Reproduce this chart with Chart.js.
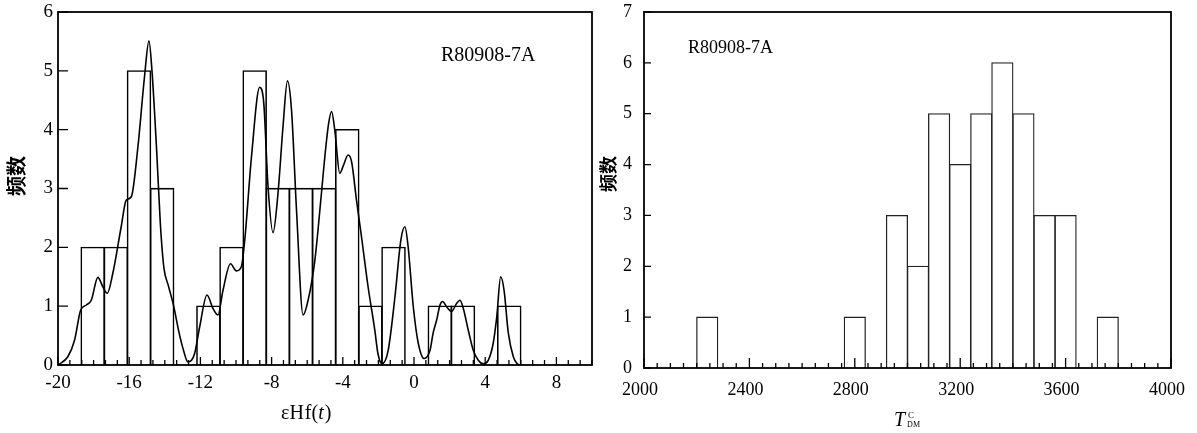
<!DOCTYPE html>
<html>
<head>
<meta charset="utf-8">
<script src="https://cdn.jsdelivr.net/npm/chart.js@4.4.1/dist/chart.umd.min.js"></script>
<style>
  html, body { margin: 0; padding: 0; background: #fff; }
  #wrap { position: relative; width: 1197px; height: 433px; }
  canvas { position: absolute; top: 0; }
  #hf-chart { left: 0; }
  #tdm-chart { left: 598px; }
</style>
</head>
<body>
<div id="wrap">
  <canvas id="hf-chart" width="598" height="433"></canvas>
  <canvas id="tdm-chart" width="599" height="433"></canvas>
</div>
<script>
// Hf isotope histograms - sample R80908-7A
const SAMPLE = 'R80908-7A';

// left panel: εHf(t) histogram (bin centres, width 1.3) and density curve
const hfBinCenters = [-18.05, -16.75, -15.45, -14.15, -12.85, -11.55, -10.25, -8.95, -7.65, -6.35,
                      -5.05, -3.75, -2.45, -1.15, 0.15, 1.45, 2.75, 4.05, 5.35];
const hfCounts = [2, 2, 5, 3, 0, 1, 2, 5, 3, 3, 3, 4, 1, 2, 0, 1, 1, 0, 1];

const hfCurveX = [-20.0, -19.45, -19.07, -18.73, -18.41, -18.13, -17.76, -17.48, -17.23, -16.92,
                  -16.45, -16.17, -15.88, -15.51, -15.14, -14.89, -14.72, -14.45, -14.25, -14.05,
                  -13.8, -13.5, -13.2, -12.95, -12.7, -12.5, -12.32, -12.04, -11.63, -11.29,
                  -11.01, -10.73, -10.31, -9.98, -9.7, -9.51, -9.13, -8.67, -8.44, -8.2,
                  -7.92, -7.64, -7.36, -7.11, -6.88, -6.6, -6.23, -5.95, -5.57, -5.2,
                  -5.01, -4.8, -4.63, -4.45, -4.17, -3.98, -3.7, -3.51, -3.23, -2.95,
                  -2.58, -2.2, -2.03, -1.8, -1.45, -1.07, -0.74, -0.51, -0.33, -0.04,
                  0.24, 0.57, 0.9, 1.08, 1.27, 1.46, 1.61, 1.83, 2.11, 2.4,
                  2.58, 2.77, 3.05, 3.33, 3.61, 3.89, 4.17, 4.45, 4.65, 4.87,
                  5.06, 5.3, 5.58, 5.8, 6.0];
const hfCurveY = [0.0, 0.14, 0.42, 0.93, 1.02, 1.10, 1.49, 1.33, 1.22, 1.56,
                  2.35, 2.80, 2.86, 3.71, 4.90, 5.51, 5.0, 3.6, 2.4, 1.65,
                  1.35, 1.0, 0.55, 0.25, 0.05, 0.08, 0.2, 0.65, 1.19, 0.96,
                  0.85, 1.27, 1.72, 1.60, 1.67, 2.12, 3.54, 4.72, 4.45, 3.03,
                  2.25, 2.92, 4.05, 4.83, 4.33, 2.63, 0.85, 1.1, 1.78, 2.92,
                  3.54, 4.1, 4.31, 3.99, 3.26, 3.38, 3.57, 3.46, 2.80, 2.18,
                  1.33, 0.59, 0.2, 0.02, 0.25, 1.16, 2.12, 2.35, 2.01, 0.99,
                  0.37, 0.11, 0.25, 0.55, 0.76, 1.02, 1.08, 0.99, 0.91, 1.05,
                  1.10, 0.96, 0.59, 0.25, 0.08, 0.02, 0.08, 0.37, 0.82, 1.50,
                  1.27, 0.54, 0.14, 0.02, 0.0];

const hfTicks = [-20, -16, -12, -8, -4, 0, 4, 8];
const hfYTicks = [0, 1, 2, 3, 4, 5, 6];

// right panel: T_DM^C histogram (bin centres, width 80 Ma)
const tdmBinCenters = [2240, 2320, 2400, 2480, 2560, 2640, 2720, 2800, 2880, 2960,
                       3040, 3120, 3200, 3280, 3360, 3440, 3520, 3600, 3680, 3760];
const tdmCounts = [1, 0, 0, 0, 0, 0, 0, 1, 0, 3, 2, 5, 4, 5, 6, 5, 3, 3, 0, 1];

const tdmTicks = [2000, 2400, 2800, 3200, 3600, 4000];
const tdmYTicks = [0, 1, 2, 3, 4, 5, 6, 7];

const FONT = 'Liberation Serif';
Chart.defaults.font.family = FONT;
Chart.defaults.color = '#000';
Chart.defaults.animation = false;

// draws the box, the inward tick marks and the annotation texts
function framePlugin(o) {
    return {
        id: 'frame',
        afterDatasetsDraw(chart) {
            const { ctx, chartArea: a, scales: { x, y } } = chart;
            ctx.save();
            ctx.strokeStyle = '#000';
            ctx.lineWidth = 1.3;
            ctx.beginPath();
            const n = Math.round((x.max - x.min) / o.minorStep);
            for (let i = 0; i <= n; i++) {
                const v = x.min + i * o.minorStep;
                const k = (v - x.min) / o.majorStep;
                const len = Math.abs(k - Math.round(k)) < 1e-6 ? o.majorLen : o.minorLen;
                const px = x.getPixelForValue(v);
                ctx.moveTo(px, a.bottom);
                ctx.lineTo(px, a.bottom - len);
            }
            o.yTicks.forEach(v => {
                const py = y.getPixelForValue(v);
                ctx.moveTo(a.left, py);
                ctx.lineTo(a.left + o.yLen, py);
            });
            ctx.stroke();
            ctx.lineWidth = 1.8;
            ctx.strokeRect(a.left, a.top, a.right - a.left, a.bottom - a.top);
            ctx.restore();
        },
        afterDraw(chart) {
            const ctx = chart.ctx;
            ctx.save();
            ctx.fillStyle = '#000';
            ctx.textBaseline = 'alphabetic';
            ctx.textAlign = 'left';
            // sample name
            ctx.font = o.labelSize + 'px ' + FONT;
            ctx.fillText(SAMPLE, o.labelX, o.labelY);
            // x title, run by run
            let cx = o.titleX;
            o.titleRuns.forEach(r => {
                ctx.font = r.font;
                ctx.fillText(r.t, cx + (r.dx || 0), o.titleY + (r.dy || 0));
                if (!r.noAdvance) cx += ctx.measureText(r.t).width + (r.dx || 0);
            });
            // y title
            ctx.translate(o.yTitleX, o.yTitleY);
            ctx.rotate(-Math.PI / 2);
            ctx.textAlign = 'center';
            ctx.textBaseline = 'middle';
            ctx.font = 'bold ' + o.yTitleSize + 'px "Noto Sans CJK SC"';
            ctx.fillText('频数', 0, 0);
            ctx.restore();
        }
    };
}

function axisOptions(min, max, ticks, size, padding, fit, labelOffset) {
    return {
        type: 'linear',
        min: min,
        max: max,
        offset: false,
        grid: { display: false, offset: false, drawTicks: false },
        border: { display: false },
        afterBuildTicks: s => { s.ticks = ticks.map(v => ({ value: v })); },
        afterFit: s => {
            fit(s);
            // keep label overhang from moving the plot box
            s.paddingTop = 0; s.paddingBottom = 0;
            s.paddingLeft = 0; s.paddingRight = 0;
        },
        ticks: {
            font: { family: FONT, size: size },
            color: '#000',
            padding: padding,
            labelOffset: labelOffset || 0,
            callback: v => String(v)
        }
    };
}

new Chart(document.getElementById('hf-chart'), {
    type: 'bar',
    data: {
        datasets: [
            {
                type: 'line',
                data: hfCurveX.map((v, i) => ({ x: v, y: hfCurveY[i] })),
                borderColor: '#000',
                borderWidth: 1.6,
                pointRadius: 0,
                tension: 0.4,
                cubicInterpolationMode: 'monotone',
                fill: false
            },
            {
                data: hfBinCenters.map((v, i) => ({ x: v, y: hfCounts[i] })),
                backgroundColor: 'rgba(0,0,0,0)',
                borderColor: '#000',
                borderWidth: 0.2,
                inflateAmount: 0.7,
                barPercentage: 1,
                categoryPercentage: 1
            }
        ]
    },
    options: {
        responsive: false,
        layout: { padding: { top: 12, right: 6, left: 0, bottom: 0 } },
        plugins: { legend: { display: false }, tooltip: { enabled: false } },
        scales: {
            x: axisOptions(-20, 10, hfTicks, 19, 7, s => { s.height = 68; }),
            y: axisOptions(0, 6, hfYTicks, 19, 5, s => { s.width = 58; })
        }
    },
    plugins: [framePlugin({
        minorStep: 4 / 6, majorStep: 4, majorLen: 8, minorLen: 5,
        yTicks: hfYTicks, yLen: 10,
        labelSize: 20, labelX: 441, labelY: 61,
        titleX: 281, titleY: 419,
        titleRuns: [
            { t: 'ε', font: '20px ' + FONT },
            { t: 'H', font: '20px ' + FONT },
            { t: 'f(', font: '20px ' + FONT, dx: 1 },
            { t: 't', font: 'italic 20px ' + FONT },
            { t: ')', font: '20px ' + FONT, dx: 1 }
        ],
        yTitleX: 16, yTitleY: 176, yTitleSize: 20
    })]
});

new Chart(document.getElementById('tdm-chart'), {
    type: 'bar',
    data: {
        datasets: [
            {
                data: tdmBinCenters.map((v, i) => ({ x: v, y: tdmCounts[i] })),
                backgroundColor: 'rgba(0,0,0,0)',
                borderColor: '#222',
                borderWidth: 0.2,
                inflateAmount: 0.55,
                barPercentage: 1,
                categoryPercentage: 1
            }
        ]
    },
    options: {
        responsive: false,
        layout: { padding: { top: 12, right: 26, left: 0, bottom: 0 } },
        plugins: { legend: { display: false }, tooltip: { enabled: false } },
        scales: {
            x: axisOptions(2000, 4000, tdmTicks, 18, 11, s => { s.height = 65; }, -4),
            y: axisOptions(0, 7, tdmYTicks, 18, 12, s => { s.width = 46; })
        }
    },
    plugins: [framePlugin({
        minorStep: 50, majorStep: 400, majorLen: 10, minorLen: 5,
        yTicks: tdmYTicks, yLen: 7,
        labelSize: 18, labelX: 90, labelY: 53,
        titleX: 296, titleY: 426,
        titleRuns: [
            { t: 'T', font: 'italic 20px ' + FONT },
            { t: 'C', font: '9px ' + FONT, dx: 3, dy: -8, noAdvance: true },
            { t: 'DM', font: '8px ' + FONT, dx: 2, dy: 1 }
        ],
        yTitleX: 10, yTitleY: 174, yTitleSize: 18
    })]
});
</script>
</body>
</html>
